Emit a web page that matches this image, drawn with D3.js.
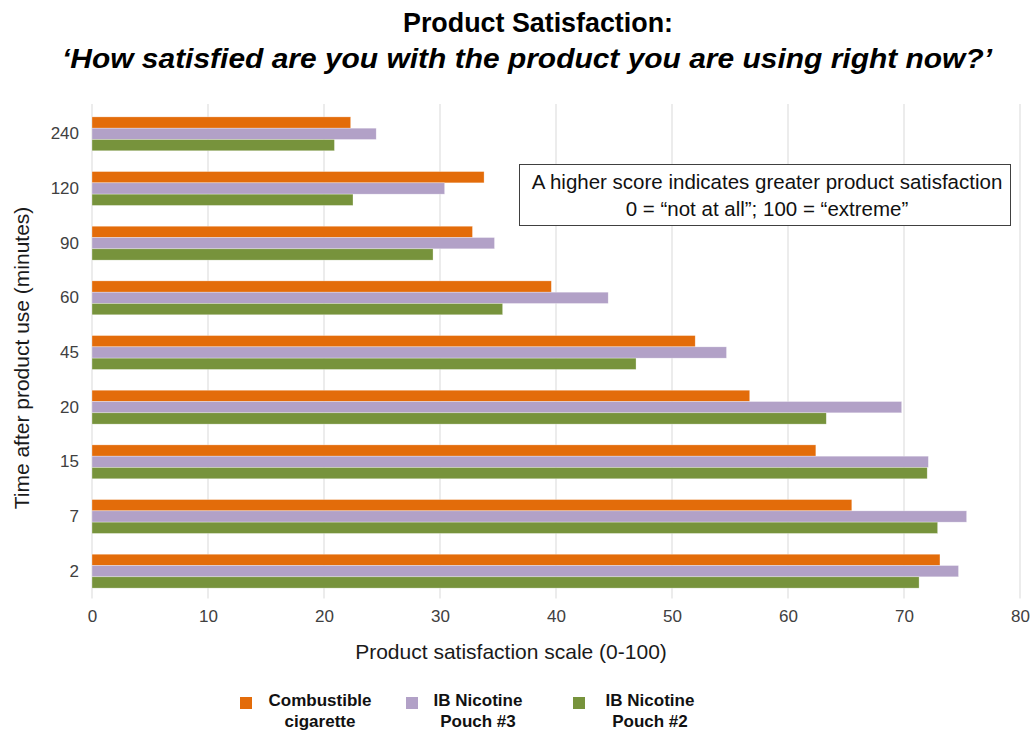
<!DOCTYPE html>
<html lang="en">
<head>
<meta charset="UTF-8">
<title>Product Satisfaction</title>
<style>
  body { margin: 0; background: #fff; }
  svg text { font-family: "Liberation Sans", Arial, sans-serif; }
</style>
<script src="https://cdn.jsdelivr.net/npm/d3@7"></script>
</head>
<body>
<svg id="chart" width="1035" height="731"></svg>
<script>
// time points (minutes), top to bottom
const timepoints = ["240", "120", "90", "60", "45", "20", "15", "7", "2"];
const seriesNames = ["Combustible cigarette", "IB Nicotine Pouch #3", "IB Nicotine Pouch #2"];
const combustible = [22.3, 33.8, 32.8, 39.6, 52.0, 56.7, 62.4, 65.5, 73.1];
const pouch3 = [24.5, 30.4, 34.7, 44.5, 54.7, 69.8, 72.1, 75.4, 74.7];
const pouch2 = [20.9, 22.5, 29.4, 35.4, 46.9, 63.3, 72.0, 72.9, 71.3];
const xTicks = [0, 10, 20, 30, 40, 50, 60, 70, 80];
const colors = ["#E36C0A", "#B2A1C7", "#77933C"];
const legendLines = [["Combustible", "cigarette"], ["IB Nicotine", "Pouch #3"], ["IB Nicotine", "Pouch #2"]];

const svg = d3.select("#chart");
const plotLeft = 92, plotRight = 1020, plotTop = 106.5, plotBottom = 598.5;

const x = d3.scaleLinear().domain([0, 80]).range([plotLeft, plotRight]);
const y = d3.scaleBand().domain(timepoints).range([plotTop, plotBottom]).paddingInner(0.38).paddingOuter(0.19);
const ySub = d3.scaleBand().domain(d3.range(3)).range([0, y.bandwidth()]);

// title
svg.append("text")
    .attr("x", 538).attr("y", 32)
    .attr("text-anchor", "middle")
    .attr("font-size", 28).attr("font-weight", "bold")
    .attr("textLength", 270).attr("lengthAdjust", "spacingAndGlyphs")
    .text("Product Satisfaction:");
svg.append("text")
    .attr("x", 527).attr("y", 68)
    .attr("text-anchor", "middle")
    .attr("font-size", 28).attr("font-weight", "bold").attr("font-style", "italic")
    .attr("textLength", 930).attr("lengthAdjust", "spacingAndGlyphs")
    .text("\u2018How satisfied are you with the product you are using right now?\u2019");

// gridlines
svg.append("g")
  .selectAll("line")
  .data(xTicks)
  .join("line")
    .attr("x1", d => x(d)).attr("x2", d => x(d))
    .attr("y1", 104).attr("y2", plotBottom)
    .attr("stroke", "#d9d9d9").attr("stroke-width", 1);

// x axis
const xAxis = svg.append("g")
    .attr("transform", `translate(0,${plotBottom})`)
    .call(d3.axisBottom(x).tickValues(xTicks).tickSize(0).tickPadding(11));
xAxis.select(".domain").remove();
xAxis.selectAll("text").attr("font-size", 17).attr("fill", "#404040")
    .attr("font-family", "Liberation Sans, Arial, sans-serif");

// y axis
const yAxis = svg.append("g")
    .attr("transform", `translate(${plotLeft},0)`)
    .call(d3.axisLeft(y).tickSize(0).tickPadding(13));
yAxis.select(".domain").remove();
yAxis.selectAll("text").attr("font-size", 17).attr("fill", "#404040")
    .attr("font-family", "Liberation Sans, Arial, sans-serif");

// bars
const series = [combustible, pouch3, pouch2];
series.forEach((vals, si) => {
  svg.append("g")
    .selectAll("rect")
    .data(vals)
    .join("rect")
      .attr("x", x(0))
      .attr("y", (d, i) => y(timepoints[i]) + ySub(si))
      .attr("width", d => x(d) - x(0))
      .attr("height", ySub.bandwidth())
      .attr("fill", colors[si])
      .attr("stroke", "#fff").attr("stroke-opacity", 0.5).attr("stroke-width", 0.6);
});

// axis titles
svg.append("text")
    .attr("x", 511).attr("y", 659)
    .attr("text-anchor", "middle")
    .attr("font-size", 21).attr("fill", "#1a1a1a")
    .text("Product satisfaction scale (0-100)");
svg.append("text")
    .attr("transform", "translate(29,358) rotate(-90)")
    .attr("text-anchor", "middle")
    .attr("font-size", 21).attr("fill", "#1a1a1a")
    .text("Time after product use (minutes)");

// annotation box
svg.append("rect")
    .attr("x", 519.5).attr("y", 164.5).attr("width", 491).attr("height", 61)
    .attr("fill", "#fff").attr("stroke", "#404040").attr("stroke-width", 1);
svg.append("text")
    .attr("x", 767).attr("y", 189)
    .attr("text-anchor", "middle").attr("font-size", 20.5).attr("fill", "#111")
    .text("A higher score indicates greater product satisfaction");
svg.append("text")
    .attr("x", 767).attr("y", 216)
    .attr("text-anchor", "middle").attr("font-size", 20.5).attr("fill", "#111")
    .text("0 = \u201cnot at all\u201d; 100 = \u201cextreme\u201d");

// legend
const legendX = [240, 406, 573];
const legendTextX = [320, 478, 650];
const legend = svg.append("g");
seriesNames.forEach((name, i) => {
  legend.append("rect")
      .attr("x", legendX[i]).attr("y", 697)
      .attr("width", 12).attr("height", 12)
      .attr("fill", colors[i]);
  legendLines[i].forEach((ln, j) => {
    legend.append("text")
        .attr("x", legendTextX[i]).attr("y", 706 + j * 21)
        .attr("text-anchor", "middle")
        .attr("font-size", 17).attr("font-weight", "bold").attr("fill", "#111")
        .text(ln);
  });
});
</script>
</body>
</html>
